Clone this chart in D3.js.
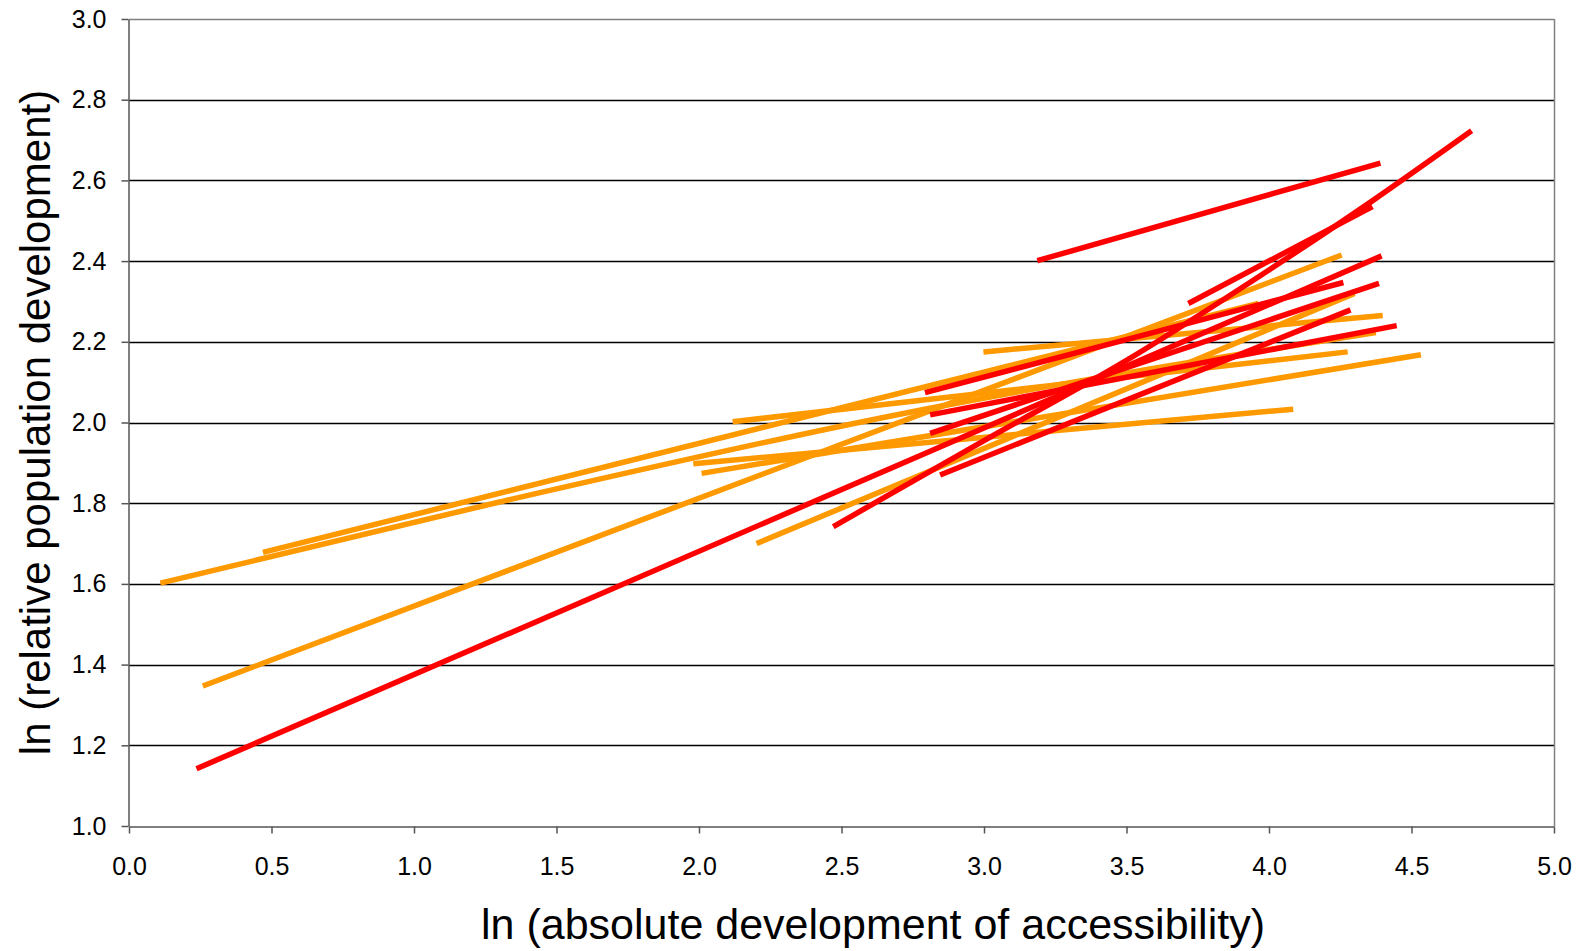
<!DOCTYPE html>
<html>
<head>
<meta charset="utf-8">
<script src="https://cdn.jsdelivr.net/npm/d3@7"></script>
<style>
  html, body { margin: 0; padding: 0; background: #fff; }
  svg { display: block; }
  text { font-family: "Liberation Sans", Arial, sans-serif; fill: #000; }
</style>
</head>
<body>
<svg id="chart" width="1580" height="951"></svg>
<script>
// ---- data ----
const xTicks = [0.0, 0.5, 1.0, 1.5, 2.0, 2.5, 3.0, 3.5, 4.0, 4.5, 5.0];
const yTicks = [1.0, 1.2, 1.4, 1.6, 1.8, 2.0, 2.2, 2.4, 2.6, 2.8, 3.0];
const xTitle = "ln (absolute development of accessibility)";
const yTitle = "ln (relative population development)";

// orange series: each one is a list of [x, y] points
const orangeA = [[0.11, 1.602], [1.3, 1.803], [2.7, 2.02], [4.375, 2.223]];
const orangeB = [[0.47, 1.678], [3.963, 2.295]];
const orangeC = [[0.259, 1.347], [4.255, 2.415]];
const orangeD = [[2.118, 2.002], [4.276, 2.175]];
const orangeE = [[1.98, 1.898], [4.085, 2.033]];
const orangeF = [[2.009, 1.874], [4.533, 2.168]];
const orangeG = [[2.202, 1.70], [4.30, 2.32]];
const orangeH = [[2.998, 2.175], [4.399, 2.265]];
const orangeSeries = [orangeA, orangeB, orangeC, orangeD, orangeE, orangeF, orangeG, orangeH];

// red series
const redA = [[0.237, 1.142], [4.395, 2.413]];
const redB = [[3.187, 2.401], [4.391, 2.643]];
const redC = [[3.717, 2.295], [4.363, 2.535]];
const redD = [[2.793, 2.074], [4.261, 2.347]];
const redE = [[2.811, 2.019], [4.448, 2.24]];
const redF = [[2.811, 1.973], [4.386, 2.345]];
const redG = [[2.846, 1.87], [4.286, 2.279]];
const redH = [[2.471, 1.742], [3.0, 1.955], [3.5, 2.154], [4.0, 2.378], [4.36, 2.548], [4.711, 2.723]];
const redSeries = [redA, redB, redC, redD, redE, redF, redG, redH];

const orangeColor = "#FF9900";
const redColor = "#FF0000";

// ---- layout ----
const svg = d3.select("#chart");
const margin = { left: 129, right: 1554, top: 19, bottom: 826 };

const x = d3.scaleLinear().domain([0, 5]).range([margin.left, margin.right]);
const y = d3.scaleLinear().domain([1, 3]).range([margin.bottom, margin.top]);

// gridlines
svg.append("g")
  .selectAll("line")
  .data(yTicks.filter(d => d > 1 && d < 3))
  .join("line")
  .attr("x1", margin.left).attr("x2", margin.right)
  .attr("y1", d => Math.round(y(d)) + 0.5).attr("y2", d => Math.round(y(d)) + 0.5)
  .attr("stroke", "#000").attr("stroke-width", 1.3);

// plot frame top & right (gray)
svg.append("line")
  .attr("x1", margin.left).attr("x2", margin.right)
  .attr("y1", y(3) + 0.5).attr("y2", y(3) + 0.5)
  .attr("stroke", "#808080").attr("stroke-width", 1.5);
svg.append("line")
  .attr("x1", margin.right + 0.5).attr("x2", margin.right + 0.5)
  .attr("y1", margin.top).attr("y2", margin.bottom)
  .attr("stroke", "#808080").attr("stroke-width", 1.5);

// axes
const xAxis = d3.axisBottom(x).tickValues(xTicks).tickFormat(d3.format(".1f"))
  .tickSizeInner(7).tickSizeOuter(0).tickPadding(24);
const yAxis = d3.axisLeft(y).tickValues(yTicks).tickFormat(d3.format(".1f"))
  .tickSizeInner(7).tickSizeOuter(0).tickPadding(15);

const gx = svg.append("g").attr("transform", `translate(0,${margin.bottom + 0.5})`).call(xAxis);
const gy = svg.append("g").attr("transform", `translate(${margin.left - 0.5},0)`).call(yAxis);

[gx, gy].forEach(g => {
  g.select(".domain").attr("stroke", "#555").attr("stroke-width", 1.5);
  g.selectAll(".tick line").attr("stroke", "#555").attr("stroke-width", 1.5);
  g.selectAll(".tick text")
    .style("font-family", "'Liberation Sans', Arial, sans-serif")
    .style("font-size", "25px").attr("fill", "#000");
});

// series lines
const line = d3.line().x(d => x(d[0])).y(d => y(d[1])).curve(d3.curveMonotoneX);

svg.append("g").selectAll("path")
  .data(orangeSeries).join("path")
  .attr("d", line).attr("fill", "none")
  .attr("stroke", orangeColor).attr("stroke-width", 5.5)
  .attr("stroke-linecap", "butt").attr("stroke-linejoin", "round");

svg.append("g").selectAll("path")
  .data(redSeries).join("path")
  .attr("d", line).attr("fill", "none")
  .attr("stroke", redColor).attr("stroke-width", 5.5)
  .attr("stroke-linecap", "butt").attr("stroke-linejoin", "round");

// axis titles
svg.append("text")
  .attr("x", 873).attr("y", 939)
  .attr("text-anchor", "middle")
  .style("font-size", "43px")
  .text(xTitle);

svg.append("text")
  .attr("transform", `translate(50, ${y(2) + 0}) rotate(-90)`)
  .attr("text-anchor", "middle")
  .style("font-size", "42px")
  .text(yTitle);
</script>
</body>
</html>
